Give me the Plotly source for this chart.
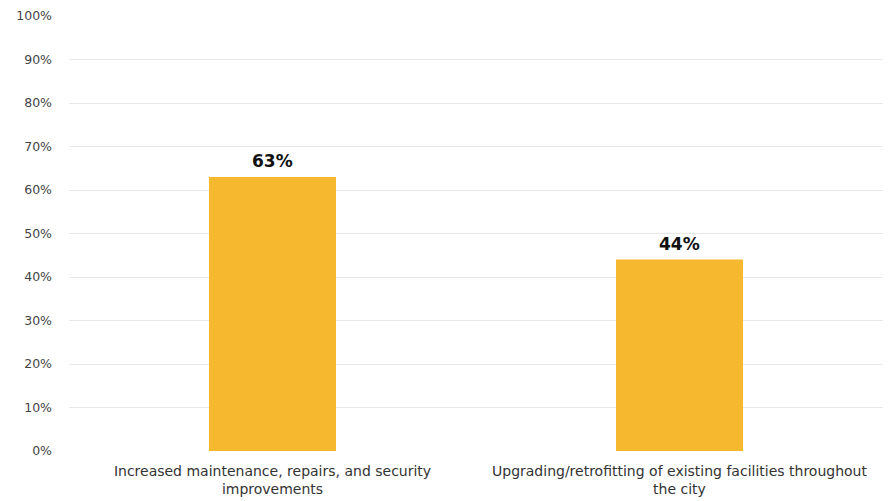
import plotly.graph_objects as go

categories = [
    "Increased maintenance, repairs, and security<br>improvements",
    "Upgrading/retrofitting of existing facilities throughout<br>the city",
]
values = [63, 44]
value_labels = ["63%", "44%"]
tick_vals = list(range(0, 101, 10))
tick_text = [f"{v}%" for v in tick_vals]

bar_color = "#F5B82E"
font_family = "'DejaVu Sans', 'Open Sans', sans-serif"

fig = go.Figure(
    go.Bar(
        x=categories,
        y=values,
        marker=dict(color=bar_color, line=dict(width=0)),
        width=0.312,
        hoverinfo="skip",
    )
)

for cat, val, lab in zip(categories, values, value_labels):
    fig.add_annotation(
        x=cat, y=val, text=f"<b>{lab}</b>", showarrow=False,
        yanchor="bottom", yshift=4,
        font=dict(family=font_family, size=17, color="#111111"),
    )

fig.update_layout(
    width=890, height=501,
    margin=dict(l=69, r=7, t=16, b=50, autoexpand=False),
    paper_bgcolor="white", plot_bgcolor="white",
    showlegend=False,
    bargap=0.688,
    font=dict(family=font_family, color="#333333"),
)
fig.update_xaxes(
    automargin=False,
    showgrid=False, zeroline=False, showline=False,
    tickfont=dict(size=14, color="#333333"),
    ticks="", ticklabelstandoff=10,
)
fig.update_yaxes(
    automargin=False,
    range=[0, 100], tickvals=tick_vals, ticktext=tick_text,
    showgrid=True, gridcolor="#E8E8E8", gridwidth=1,
    zeroline=False, showline=False,
    tickfont=dict(size=12.5, color="#444444"),
    ticks="", ticklabelstandoff=16,
)

fig.write_html("out.html")
